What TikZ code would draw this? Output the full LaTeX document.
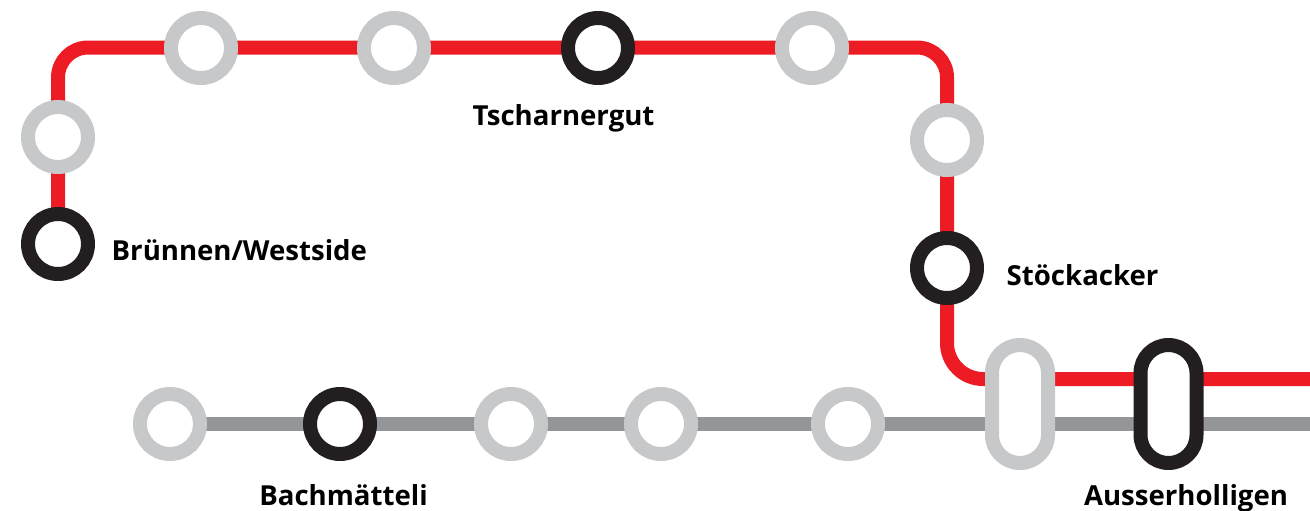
\documentclass[tikz,border=0pt]{standalone}
\usepackage{fontspec}
\setmainfont{Open Sans}
\usetikzlibrary{backgrounds}
\definecolor{linered}{HTML}{ED1C24}
\definecolor{linegray}{HTML}{939598}
\definecolor{stopgray}{HTML}{C7C8CA}
\definecolor{stopblack}{HTML}{231F20}
\tikzset{
	stop/.style={circle,draw=stopgray,fill=white,line width=0.14cm,minimum size=0.6cm,inner sep=0pt},
	mainstop/.style={stop,draw=stopblack},
	hub/.style={rectangle,draw=stopgray,fill=white,line width=0.14cm,minimum width=0.56cm,minimum height=1.18cm,inner sep=0pt,rounded corners=0.28cm},
	mainhub/.style={hub,draw=stopblack},
	redline/.style={draw=linered,line width=0.14cm,rounded corners=0.3cm},
	grayline/.style={draw=linegray,line width=0.14cm},
	stopname/.style={font=\bfseries\fontsize{7.85}{10}\selectfont,text=black,inner sep=0pt}
}
\begin{document}
\begin{tikzpicture}[line join=round]
	\useasboundingbox (0,0) rectangle (13.1,5.1);
	% stops, y counted from the lower edge
	\coordinate (redend) at (13.1,1.31);
	\coordinate (grayend) at (13.1,0.86);
	\coordinate (cornerA) at (0.58,4.625);
	\coordinate (cornerB) at (9.47,4.625);
	\coordinate (cornerC) at (9.47,1.31);
	\node[mainstop] (brunnen) at (0.58,2.66) {};
	\node[stop] (r1) at (0.58,3.73) {};
	\node[stop] (r2) at (2.01,4.62) {};
	\node[stop] (r3) at (3.94,4.62) {};
	\node[mainstop] (tscharner) at (5.98,4.62) {};
	\node[stop] (r4) at (8.12,4.62) {};
	\node[stop] (r5) at (9.47,3.70) {};
	\node[mainstop] (stock) at (9.47,2.42) {};
	\node[stop] (g1) at (1.70,0.86) {};
	\node[mainstop] (bach) at (3.40,0.86) {};
	\node[stop] (g2) at (5.11,0.86) {};
	\node[stop] (g3) at (6.61,0.86) {};
	\node[stop] (g4) at (8.48,0.86) {};
	\node[hub] (hubA) at (10.20,1.06) {};
	\node[mainhub] (hubB) at (11.685,1.06) {};
	% lines go under the stops
	\begin{scope}[on background layer]
		\draw[redline] (brunnen.center) -- (cornerA) -- (cornerB) [rounded corners=0.36cm] -- (cornerC) -- (redend);
		\draw[grayline] (g1.center) -- (grayend);
	\end{scope}
	\node[stopname,anchor=base west] (brunnenlabel) at (1.11,2.50) {Brünnen/Westside};
	\node[stopname,anchor=base] (tscharnerlabel) at (5.635,3.85) {Tscharnergut};
	\node[stopname,anchor=base west] (stocklabel) at (10.06,2.25) {Stöckacker};
	\node[stopname,anchor=base] (bachlabel) at (3.435,0.05) {Bachmätteli};
	\node[stopname,anchor=base] (ausserlabel) at (11.86,0.05) {Ausserholligen};
\end{tikzpicture}
\end{document}
